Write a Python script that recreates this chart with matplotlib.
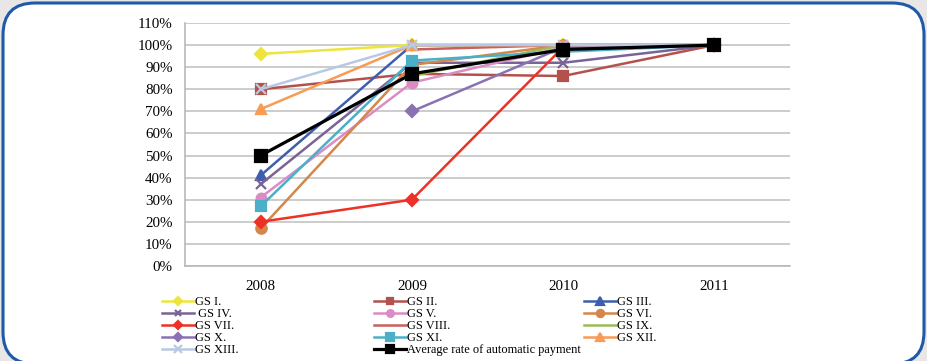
import numpy as np
import matplotlib.pyplot as plt
from matplotlib.patches import FancyBboxPatch
from matplotlib.transforms import IdentityTransform
from matplotlib.ticker import PercentFormatter

#chart values (percent of automatic payment)
years = ['2008', '2009', '2010', '2011']
gs_1 = [96, 100, 100, 100]
gs_2 = [80, 87, 86, 100]
gs_3 = [41, 100, 100, 100]
gs_4 = [37, 92, 92, 100]
gs_5 = [31, 83, 99, 100]
gs_6 = [17, 91, 100, 100]
gs_7 = [20, 30, 99, 100]
gs_8 = [np.nan, 98, 100, 100]
gs_9 = [np.nan, 86, 100, 100]
gs_10 = [np.nan, 70, 99, 100]
gs_11 = [27, 93, 97, 100]
gs_12 = [71, 100, 100, 100]
gs_13 = [80, 100, 100, 100]
average = [50, 87, 98, 100]

labels = ['GS I.', 'GS II.', 'GS III.', ' GS IV.', 'GS V.', 'GS VI.', 'GS VII.',
          'GS VIII.', 'GS IX.', 'GS X.', 'GS XI.', 'GS XII.', 'GS XIII.',
          'Average rate of automatic payment']

plt.rcParams['font.family'] = ['Liberation Serif', 'DejaVu Serif']

W, H = 927, 361
fig = plt.figure(figsize=(W / 100, H / 100), dpi=100)
fig.patch.set_facecolor('#e8e7e6')

#rounded blue frame behind everything (pixel coords)
frame = FancyBboxPatch((3, -3), 921, 361, boxstyle='round,pad=0,rounding_size=32',
                       transform=IdentityTransform(), facecolor='white',
                       edgecolor='#1f5aa8', linewidth=2.2, zorder=-1)
fig.add_artist(frame)

ax = fig.add_axes([185 / W, 1 - 266 / H, 605 / W, 243 / H])
ax.set_facecolor('none')
x = np.arange(len(years))

#(values, colour, marker, marker size) for each series in legend order
styles = [
    (gs_1, '#eee53c', 'D', 6.5),
    (gs_2, '#b4514d', 's', 7),
    (gs_3, '#3e5ead', '^', 7.5),
    (gs_4, '#7a6496', 'x', 7),
    (gs_5, '#dc8cc4', 'o', 7),
    (gs_6, '#d4874a', 'o', 7.5),
    (gs_7, '#ee3126', 'D', 6.5),
    (gs_8, '#c9605b', None, 0),
    (gs_9, '#9bbb59', None, 0),
    (gs_10, '#8a72b2', 'D', 6.5),
    (gs_11, '#4bafc8', 's', 7.5),
    (gs_12, '#f79b55', '^', 7.5),
    (gs_13, '#b8c9e2', 'x', 7.5),
    (average, 'black', 's', 8),
]

handles = []
for (vals, color, marker, ms), label in zip(styles, labels):
    lw = 2.3 if color == 'black' else 1.8
    line, = ax.plot(x, np.array(vals) / 100, color=color, marker=marker, markersize=ms,
                    markeredgecolor=color, markeredgewidth=1.6, linewidth=lw, label=label)
    handles.append(line)

#axes look
ax.set_xlim(-0.5, 3.5)
ax.set_ylim(0, 1.1)
ax.set_yticks(np.arange(0, 1.101, 0.1))
ax.yaxis.set_major_formatter(PercentFormatter(1.0, decimals=0))
ax.set_xticks(x)
ax.set_xticklabels(years)
ax.grid(axis='y', color='#bfbfbf', linewidth=1.1)
ax.set_axisbelow(True)
for side in ['top', 'right']:
    ax.spines[side].set_visible(False)
for side in ['left', 'bottom']:
    ax.spines[side].set_color('#b3b3b3')
    ax.spines[side].set_linewidth(1.1)
ax.tick_params(axis='both', length=0, labelsize=10.8)
ax.tick_params(axis='y', pad=9)
ax.tick_params(axis='x', pad=10)

#legend laid out row by row in three columns
columns = [handles[0::3], handles[1::3], handles[2::3]]
for col, xpos in zip(columns, [162, 374, 584]):
    fig.legend(handles=col, loc='upper left', bbox_to_anchor=(xpos / W, 1 - 296 / H),
               frameon=False, fontsize=8.9, handlelength=2.6, handletextpad=0.1,
               labelspacing=0.0, borderpad=0, borderaxespad=0, markerscale=0.7)

fig.savefig('out.png', dpi=100)
